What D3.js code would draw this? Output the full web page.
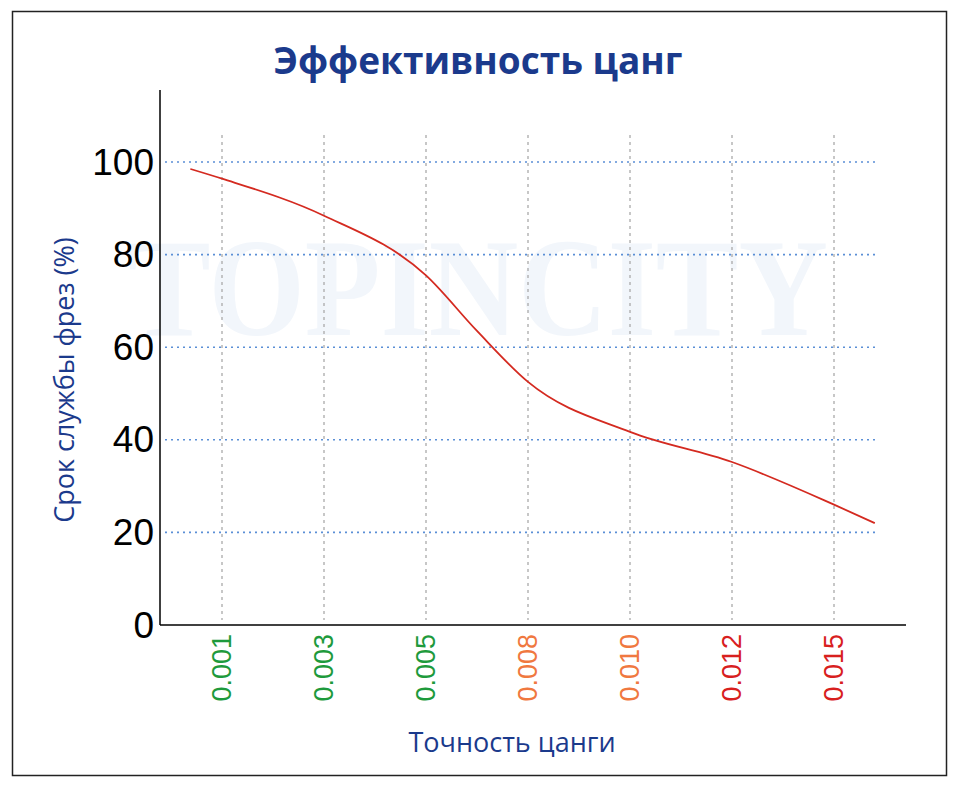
<!DOCTYPE html>
<html><head><meta charset="utf-8">
<script src="https://cdn.jsdelivr.net/npm/d3@7"></script>
<style>body{margin:0;background:#fff}</style>
</head><body>
<svg id="c" width="959" height="787"></svg>
<script>
var categories = ["0.001", "0.003", "0.005", "0.008", "0.010", "0.012", "0.015"];
var tickColors = ["#1e9a3c", "#1e9a3c", "#1e9a3c", "#f07840", "#f07840", "#d8201e", "#d8201e"];
var yTicks = [0, 20, 40, 60, 80, 100];
// curve, x in category index units
var curveX = [-0.31, 0, 1, 2, 2.5, 3, 4, 5, 6, 6.4];
var curveY = [98.5, 96.4, 88.4, 75.5, 63.5, 52.5, 41.7, 35.2, 26, 22];

var svg = d3.select("#c");
var blue = "#1b3a8c";

svg.append("rect").attr("x", 12.5).attr("y", 11.5).attr("width", 934).attr("height", 764)
  .attr("fill", "none").attr("stroke", "#222").attr("stroke-width", 1.5);

// faint watermark
svg.append("text").attr("x", 478).attr("y", 335).attr("text-anchor", "middle")
  .attr("font-family", "Liberation Serif").attr("font-weight", "bold").attr("font-size", 140)
  .attr("textLength", 700).attr("lengthAdjust", "spacingAndGlyphs")
  .attr("fill", "#f2f6fb").text("TOPINCITY");

svg.append("text").attr("x", 478).attr("y", 74).attr("text-anchor", "middle")
  .attr("font-family", "Open Sans").attr("font-weight", "bold").attr("font-size", 37)
  .attr("fill", blue).text("Эффективность цанг");

var x = d3.scaleLinear().domain([0, 6]).range([222, 834]);
var y = d3.scaleLinear().domain([0, 100]).range([625, 162]);

var g = svg.append("g");
categories.forEach(function(c, i) {
  g.append("line").attr("x1", x(i)).attr("x2", x(i)).attr("y1", 135).attr("y2", 620)
    .attr("stroke", "#aaa").attr("stroke-width", 1.3).attr("stroke-dasharray", "3,4");
});
yTicks.slice(1).forEach(function(v) {
  g.append("line").attr("x1", 165).attr("x2", 875).attr("y1", y(v)).attr("y2", y(v))
    .attr("stroke", "#5b8fd6").attr("stroke-width", 1.6).attr("stroke-dasharray", "2,4");
});

svg.append("line").attr("x1", 160).attr("x2", 160).attr("y1", 90).attr("y2", 625).attr("stroke", "#000").attr("stroke-width", 1.5);
svg.append("line").attr("x1", 160).attr("x2", 906).attr("y1", 625).attr("y2", 625).attr("stroke", "#000").attr("stroke-width", 1.5);

yTicks.forEach(function(v) {
  svg.append("text").attr("x", 154).attr("y", y(v)).attr("text-anchor", "end")
    .attr("dominant-baseline", "central").attr("font-family", "Liberation Sans")
    .attr("font-size", 37).text(v);
});

categories.forEach(function(c, i) {
  svg.append("text").attr("transform", "translate(" + x(i) + ",634) rotate(-90)")
    .attr("text-anchor", "end").attr("dominant-baseline", "central")
    .attr("font-family", "Liberation Sans").attr("font-size", 27)
    .attr("fill", tickColors[i]).text(c);
});

var pts = curveX.map(function(d, i) { return [d, curveY[i]]; });
svg.append("path").datum(pts)
  .attr("d", d3.line().x(function(d) { return x(d[0]); }).y(function(d) { return y(d[1]); }).curve(d3.curveMonotoneX))
  .attr("fill", "none").attr("stroke", "#d42a20").attr("stroke-width", 1.8);

svg.append("text").attr("transform", "translate(74,380) rotate(-90)").attr("text-anchor", "middle")
  .attr("font-family", "Open Sans").attr("font-size", 27).attr("fill", blue).text("Срок службы фрез (%)");
svg.append("text").attr("x", 512).attr("y", 752).attr("text-anchor", "middle")
  .attr("font-family", "Open Sans").attr("font-size", 27).attr("fill", blue).text("Точность цанги");
</script>
</body></html>
